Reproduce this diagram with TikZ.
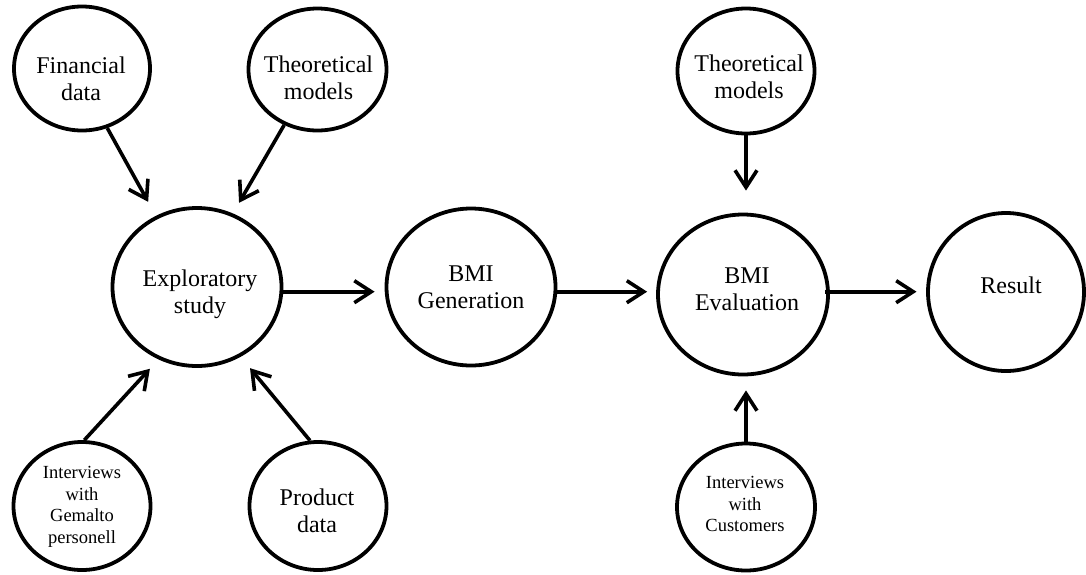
\documentclass[tikz,border=0pt]{standalone}
\usepackage{fontspec}
\setmainfont{Liberation Serif}
\usetikzlibrary{shapes.geometric,arrows.meta}

\begin{document}
\begin{tikzpicture}[x=1pt,y=-1pt,
  blob/.style n args={2}{draw, ellipse, line width=3.8pt, inner sep=0pt,
    minimum width=#1pt, minimum height=#2pt},
  txt/.style={align=center, inner sep=0pt, font=\fontsize{24}{27}\selectfont},
  smalltxt/.style={align=center, inner sep=0pt, font=\fontsize{18.5}{21.5}\selectfont},
  arr/.style={line width=3.6pt, -{Straight Barb[length=17pt,width=22pt]}}]

\useasboundingbox (0,0) rectangle (1086,574);

% circles
\node[blob={136}{124}] (fin)   at (82,68.5) {};
\node[blob={138}{122}] (theoL) at (317.5,69.5) {};
\node[blob={169}{158}] (expl)  at (197,287) {};
\node[blob={169}{157}] (gen)   at (471,287) {};
\node[blob={170}{160}] (eval)  at (743,294.5) {};
\node[blob={156}{158}] (res)   at (1006,292) {};
\node[blob={137}{125}] (theoR) at (746,71) {};
\node[blob={138}{127}] (cust)  at (746,507) {};
\node[blob={137}{128}] (gem)   at (82,506) {};
\node[blob={137}{128}] (prod)  at (318,506) {};

% labels
\node[txt] (fin-t)   at (81,78.5)  {Financial\\data};
\node[txt] (theoL-t) at (318.5,77.5) {Theoretical\\models};
\node[txt] (expl-t)  at (200,294)  {Exploratory\\study};
\node[txt] (gen-t)   at (471,287)  {BMI\\Generation};
\node[txt] (eval-t)  at (747,289)  {BMI\\Evaluation};
\node[txt] (res-t)   at (1011,285) {Result};
\node[txt] (theoR-t) at (749,77)   {Theoretical\\models};
\node[smalltxt] (cust-t) at (745,504) {Interviews\\with\\Customers};
\node[smalltxt] (gem-t)  at (82,507)  {Interviews\\with\\Gemalto\\personell};
\node[txt] (prod-t)  at (317,510.5) {Product\\data};

% main flow line
\coordinate (axis) at (0,291.7);

% inputs to the exploratory study
\draw[arr, shorten >=16pt]   (fin.-67.2)    -- (expl.120.9);
\draw[arr, shorten >=12.3pt] (theoL.-121.8) -- (expl.64.4);
\draw[arr, shorten >=12.7pt] (gem.88.3)     -- (expl.-118.6);
\draw[arr, shorten >=14.7pt] (prod.97.5)    -- (expl.-58.5);

% main flow
\draw[arr, shorten >=10pt] (expl.east|-axis) -- (gen.west|-axis);
\draw[arr, shorten >=9pt]  (gen.east|-axis)  -- (eval.west|-axis);
\draw[arr, shorten <=-5pt, shorten >=9.6pt] (eval.east|-axis) -- (res.west|-axis);

% inputs to the evaluation
\draw[arr, shorten >=22pt] (theoR.south) -- (theoR.south|-eval.north);
\draw[arr, shorten >=14pt] (cust.north)  -- (cust.north|-eval.south);
\end{tikzpicture}
\end{document}
